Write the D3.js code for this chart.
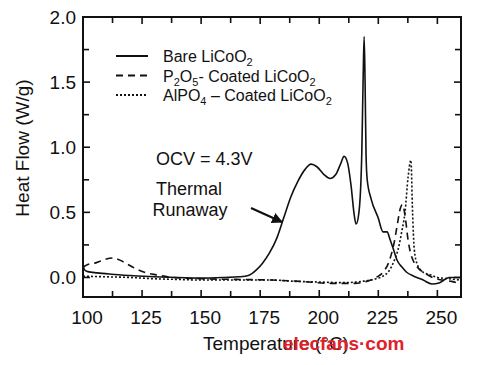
<!doctype html>
<html lang="en">
<head>
  <meta charset="utf-8">
  <title>Heat Flow</title>
  <style>
  body { margin: 0; background: #fff; }
  svg { display: block; font-family: Arial, "Liberation Sans", sans-serif; }
  .frame { fill: none; stroke: #111; stroke-width: 2; }
  .curve { fill: none; stroke: #111; stroke-width: 1.6; }
  </style>
</head>
<body>
  <div id="chart"></div>
  <script src="https://d3js.org/d3.v7.min.js"></script>
  <script>
// Bare LiCoO2
var bareT = [100, 100.6, 102, 106, 112, 120, 130, 140, 150, 160, 166, 170, 173.5, 176, 179, 182, 185, 188, 191, 194, 196.5, 199, 202, 204.6, 207, 209, 210.5, 212, 213.5, 214.8, 215.6, 216.8, 218, 218.6, 219, 219.4, 219.8, 220.3, 222, 224.9, 227, 228.7, 230, 231.5, 233, 235, 237, 240, 244, 247.7, 251, 255, 258, 260];
var bareV = [0.10, 0.06, 0.045, 0.035, 0.025, 0.015, 0.005, 0.0, -0.005, 0.0, 0.005, 0.015, 0.06, 0.11, 0.19, 0.30, 0.46, 0.62, 0.74, 0.83, 0.87, 0.85, 0.79, 0.76, 0.79, 0.87, 0.93, 0.88, 0.70, 0.48, 0.41, 0.50, 0.95, 1.55, 1.85, 1.5, 0.95, 0.75, 0.60, 0.46, 0.35, 0.35, 0.29, 0.21, 0.13, 0.08, 0.04, 0.01, -0.02, -0.05, -0.04, 0.0, 0.0, 0.0];
// P2O5-coated
var p2o5T = [100, 102, 105, 108, 112.5, 116, 119, 122, 126, 131, 138, 150, 165, 180, 192, 205, 215, 220, 224, 227, 229.5, 231.5, 233, 234.3, 235.2, 236.5, 237.5, 238.5, 240, 242, 245, 248, 252, 256, 260];
var p2o5V = [0.08, 0.10, 0.11, 0.13, 0.15, 0.13, 0.10, 0.07, 0.04, 0.02, 0.0, -0.01, -0.015, -0.02, -0.03, -0.045, -0.045, -0.03, 0.0, 0.04, 0.12, 0.25, 0.40, 0.53, 0.56, 0.45, 0.30, 0.20, 0.12, 0.07, 0.03, 0.0, -0.02, -0.03, -0.05];
// AlPO4-coated
var alpo4T = [100, 110, 120, 130, 140, 150, 160, 170, 180, 190, 200, 210, 218, 224, 227, 229.5, 231.5, 233.3, 235, 236.3, 237.6, 238.8, 239.5, 240.2, 241.5, 244, 247, 250, 255, 260];
var alpo4V = [0.01, 0.005, 0.0, -0.01, -0.015, -0.02, -0.02, -0.02, -0.02, -0.03, -0.035, -0.04, -0.03, -0.01, 0.01, 0.05, 0.12, 0.21, 0.36, 0.50, 0.77, 0.90, 0.50, 0.22, 0.10, 0.04, 0.02, 0.0, -0.01, -0.02];

var xTicks = [100, 125, 150, 175, 200, 225, 250];
var yTicks = [0.0, 0.5, 1.0, 1.5, 2.0];

// [text, isSubscript]
var legendParts = [
  [["Bare LiCoO", 0], ["2", 1]],
  [["P", 0], ["2", 1], ["O", 0], ["5", 1], ["- Coated LiCoO", 0], ["2", 1]],
  [["AlPO", 0], ["4", 1], [" \u2013 Coated LiCoO", 0], ["2", 1]]
];
var dashes = [null, "7,5", "2,2"];

(function() {
  var width = 486, height = 365;
  var left = 83, right = 461, top = 17, bottom = 297;

  var svg = d3.select("#chart").append("svg")
      .attr("width", width).attr("height", height);

  var x = d3.scaleLinear().domain([100, 260]).range([left, right]);
  var y = d3.scaleLinear().domain([-0.15, 2.0]).range([bottom, top]);

  var minorX = d3.range(112.5, 260, 25);
  var minorY = d3.range(0.25, 2.0, 0.5);

  var g = svg.append("g");

  // inward ticks on all four sides
  function xt(vals, len) {
    vals.forEach(function(v) {
      g.append("line").attr("x1", x(v)).attr("x2", x(v)).attr("y1", bottom).attr("y2", bottom - len).attr("stroke", "#111").attr("stroke-width", 1.6);
      g.append("line").attr("x1", x(v)).attr("x2", x(v)).attr("y1", top).attr("y2", top + len).attr("stroke", "#111").attr("stroke-width", 1.6);
    });
  }
  function yt(vals, len) {
    vals.forEach(function(v) {
      g.append("line").attr("y1", y(v)).attr("y2", y(v)).attr("x1", left).attr("x2", left + len).attr("stroke", "#111").attr("stroke-width", 1.6);
      g.append("line").attr("y1", y(v)).attr("y2", y(v)).attr("x1", right).attr("x2", right - len).attr("stroke", "#111").attr("stroke-width", 1.6);
    });
  }
  xt(xTicks.filter(function(v) { return v > 100; }), 7);
  xt(minorX, 6);
  yt(yTicks.filter(function(v) { return v < 2; }), 7);
  yt(minorY, 6);

  g.append("rect").attr("class", "frame")
    .attr("x", left).attr("y", top).attr("width", right - left).attr("height", bottom - top);

  // tick labels
  svg.selectAll(".xl").data(xTicks).enter().append("text")
    .attr("x", function(d) { return x(d) + 4; }).attr("y", 324)
    .attr("text-anchor", "middle").attr("font-size", 19).attr("fill", "#111")
    .text(function(d) { return d; });
  svg.selectAll(".yl").data(yTicks).enter().append("text")
    .attr("x", 76).attr("y", function(d) { return y(d) + 7; })
    .attr("text-anchor", "end").attr("font-size", 19).attr("fill", "#111")
    .text(function(d) { return d.toFixed(1); });

  svg.append("text").attr("transform", "translate(29," + ((top + bottom) / 2 - 9) + ") rotate(-90)")
    .attr("text-anchor", "middle").attr("font-size", 19).attr("fill", "#111")
    .text("Heat Flow (W/g)");
  svg.append("text").attr("x", 276).attr("y", 350)
    .attr("text-anchor", "middle").attr("font-size", 19).attr("fill", "#111")
    .text("Temperature (\u00b0C)");

  // curves
  var line = d3.line().curve(d3.curveMonotoneX)
    .x(function(d) { return x(d[0]); }).y(function(d) { return y(d[1]); });
  var series = [d3.zip(bareT, bareV), d3.zip(p2o5T, p2o5V), d3.zip(alpo4T, alpo4V)];
  svg.append("clipPath").attr("id", "c").append("rect")
    .attr("x", left).attr("y", top).attr("width", right - left).attr("height", bottom - top);
  svg.append("g").attr("clip-path", "url(#c)").selectAll("path").data(series).enter().append("path")
    .attr("class", "curve")
    .attr("stroke-dasharray", function(d, i) { return dashes[i]; })
    .attr("d", line);

  // legend
  legendParts.forEach(function(parts, i) {
    var ly = 56 + i * 19.5;
    svg.append("line").attr("x1", 116).attr("x2", 148).attr("y1", ly).attr("y2", ly)
      .attr("stroke", "#111").attr("stroke-width", 2)
      .attr("stroke-dasharray", dashes[i]);
    var t = svg.append("text").attr("x", 163).attr("y", ly + 6).attr("font-size", 16).attr("fill", "#111");
    var shifted = false;
    parts.forEach(function(p) {
      var dy = 0;
      if (p[1] && !shifted) { dy = 4; shifted = true; }
      else if (!p[1] && shifted) { dy = -4; shifted = false; }
      t.append("tspan").attr("font-size", p[1] ? 11 : 16).attr("dy", dy).text(p[0]);
    });
  });

  // annotations
  svg.append("text").attr("x", 156).attr("y", 165).attr("font-size", 18).attr("fill", "#111").text("OCV = 4.3V");
  svg.append("text").attr("x", 189).attr("y", 195).attr("text-anchor", "middle").attr("font-size", 18).attr("fill", "#111").text("Thermal");
  svg.append("text").attr("x", 190).attr("y", 216).attr("text-anchor", "middle").attr("font-size", 18).attr("fill", "#111").text("Runaway");

  svg.append("defs").append("marker").attr("id", "ah")
    .attr("viewBox", "0 0 10 10").attr("refX", 9).attr("refY", 5)
    .attr("markerWidth", 5).attr("markerHeight", 5).attr("orient", "auto")
    .append("path").attr("d", "M0,0L10,5L0,10z").attr("fill", "#111");
  svg.append("line").attr("x1", 251).attr("y1", 208).attr("x2", 282).attr("y2", 222)
    .attr("stroke", "#111").attr("stroke-width", 2.2).attr("marker-end", "url(#ah)");

  // watermark
  svg.append("text").attr("x", 283).attr("y", 350).attr("font-size", 19).attr("font-weight", "bold")
    .attr("fill", "#e0202a").text("elecfans\u00b7com");
})();
  </script>
</body>
</html>
